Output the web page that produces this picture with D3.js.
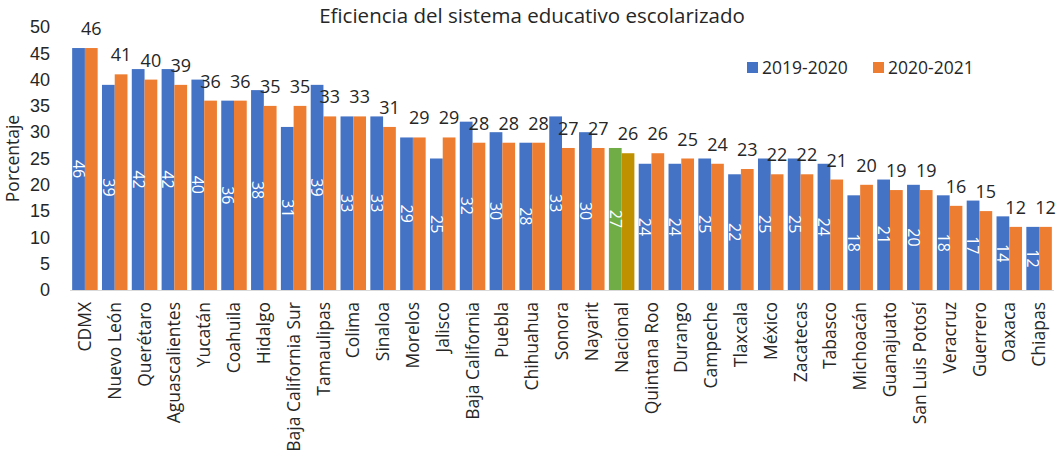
<!DOCTYPE html>
<html>
<head>
<meta charset="utf-8">
<script src="https://cdn.jsdelivr.net/npm/d3@7"></script>
<style>
  body { margin: 0; background: #fff; }
  svg { display: block; font-family: 'Open Sans', sans-serif; }
  .title { font-size: 20.5px; fill: #262626; }
  .tick text { font-size: 18px; fill: #262626; }
  .xlab { font-size: 17.5px; fill: #262626; }
  .toplab { font-size: 18px; fill: #262626; }
  .inlab { font-size: 16px; fill: #fff; }
  .legend text { font-size: 17.5px; fill: #262626; }
</style>
</head>
<body>
<svg width="1057" height="459"></svg>
<script>
// categories and values
const states = ['CDMX', 'Nuevo León', 'Querétaro', 'Aguascalientes', 'Yucatán', 'Coahuila', 'Hidalgo',
  'Baja California Sur', 'Tamaulipas', 'Colima', 'Sinaloa', 'Morelos', 'Jalisco', 'Baja California',
  'Puebla', 'Chihuahua', 'Sonora', 'Nayarit', 'Nacional', 'Quintana Roo', 'Durango', 'Campeche',
  'Tlaxcala', 'México', 'Zacatecas', 'Tabasco', 'Michoacán', 'Guanajuato', 'San Luis Potosí',
  'Veracruz', 'Guerrero', 'Oaxaca', 'Chiapas'];
const v2019 = [46, 39, 42, 42, 40, 36, 38, 31, 39, 33, 33, 29, 25, 32, 30, 28, 33, 30, 27, 24, 24, 25,
  22, 25, 25, 24, 18, 21, 20, 18, 17, 14, 12];
const v2020 = [46, 41, 40, 39, 36, 36, 35, 35, 33, 33, 31, 29, 29, 28, 28, 28, 27, 27, 26, 26, 25, 24,
  23, 22, 22, 21, 20, 19, 19, 16, 15, 12, 12];
const seriesNames = ['2019-2020', '2020-2021'];
const yTicks = [0, 5, 10, 15, 20, 25, 30, 35, 40, 45, 50];

const colors = { '2019-2020': '#4472c4', '2020-2021': '#ed7d31' };
const nationalColors = { '2019-2020': '#70ad47', '2020-2021': '#bf9000' };

const svg = d3.select('svg');

const x0 = d3.scaleBand()
  .domain(states)
  .range([70, 1054])
  .paddingInner(0.145)
  .paddingOuter(0.0725);

const x1 = d3.scaleBand()
  .domain(seriesNames)
  .range([0, x0.bandwidth()]);

const y = d3.scaleLinear()
  .domain([0, 50])
  .range([290, 27]);

const rows = states.map((s, i) => ({ state: s, values: [v2019[i], v2020[i]] }));

// title
svg.append('text')
  .attr('class', 'title')
  .attr('x', 532)
  .attr('y', 23)
  .attr('text-anchor', 'middle')
  .text('Eficiencia del sistema educativo escolarizado');

// y axis
const yAxis = svg.append('g')
  .attr('transform', 'translate(56,0)')
  .call(d3.axisLeft(y).tickValues(yTicks).tickSize(0).tickPadding(6));
yAxis.select('.domain').remove();

svg.append('text')
  .attr('transform', `translate(19,${(y(0) + y(50)) / 2}) rotate(-90)`)
  .attr('text-anchor', 'middle')
  .style('font-size', '17.5px')
  .style('fill', '#262626')
  .text('Porcentaje');

// bars
const group = svg.selectAll('.group')
  .data(rows)
  .join('g')
  .attr('class', 'group')
  .attr('transform', d => `translate(${x0(d.state)},0)`);

group.selectAll('rect')
  .data(d => d.values.map((v, j) => ({ state: d.state, series: seriesNames[j], value: v })))
  .join('rect')
  .attr('x', d => x1(d.series))
  .attr('y', d => y(d.value))
  .attr('width', x1.bandwidth())
  .attr('height', d => y(0) - y(d.value))
  .attr('fill', d => d.state === 'Nacional' ? nationalColors[d.series] : colors[d.series]);

// baseline
svg.append('line')
  .attr('x1', 70).attr('x2', 1054)
  .attr('y1', y(0) + 0.5).attr('y2', y(0) + 0.5)
  .attr('stroke', '#d9d9d9');

// labels inside first series bars (rotated)
group.append('text')
  .attr('class', 'inlab')
  .attr('transform', d => {
    const cx = x1('2019-2020') + x1.bandwidth() / 2;
    const cy = (y(d.values[0]) + y(0)) / 2;
    return `translate(${cx},${cy}) rotate(90)`;
  })
  .attr('text-anchor', 'middle')
  .attr('dy', '0.35em')
  .text(d => d.values[0]);

// labels above second series bars
group.append('text')
  .attr('class', 'toplab')
  .attr('x', x1('2020-2021') + x1.bandwidth() / 2)
  .attr('y', d => y(d.values[1]) - 13)
  .attr('text-anchor', 'middle')
  .text(d => d.values[1]);

// category labels
group.append('text')
  .attr('class', 'xlab')
  .attr('transform', `translate(${x0.bandwidth() / 2},${y(0) + 12}) rotate(-90)`)
  .attr('text-anchor', 'end')
  .attr('dy', '0.35em')
  .text(d => d.state);

// legend
const legend = svg.append('g').attr('class', 'legend');
const legendX = [747, 873];
seriesNames.forEach((s, i) => {
  legend.append('rect')
    .attr('x', legendX[i]).attr('y', 62)
    .attr('width', 11).attr('height', 11)
    .attr('fill', colors[s]);
  legend.append('text')
    .attr('x', legendX[i] + 15).attr('y', 74)
    .text(s);
});
</script>
</body>
</html>
